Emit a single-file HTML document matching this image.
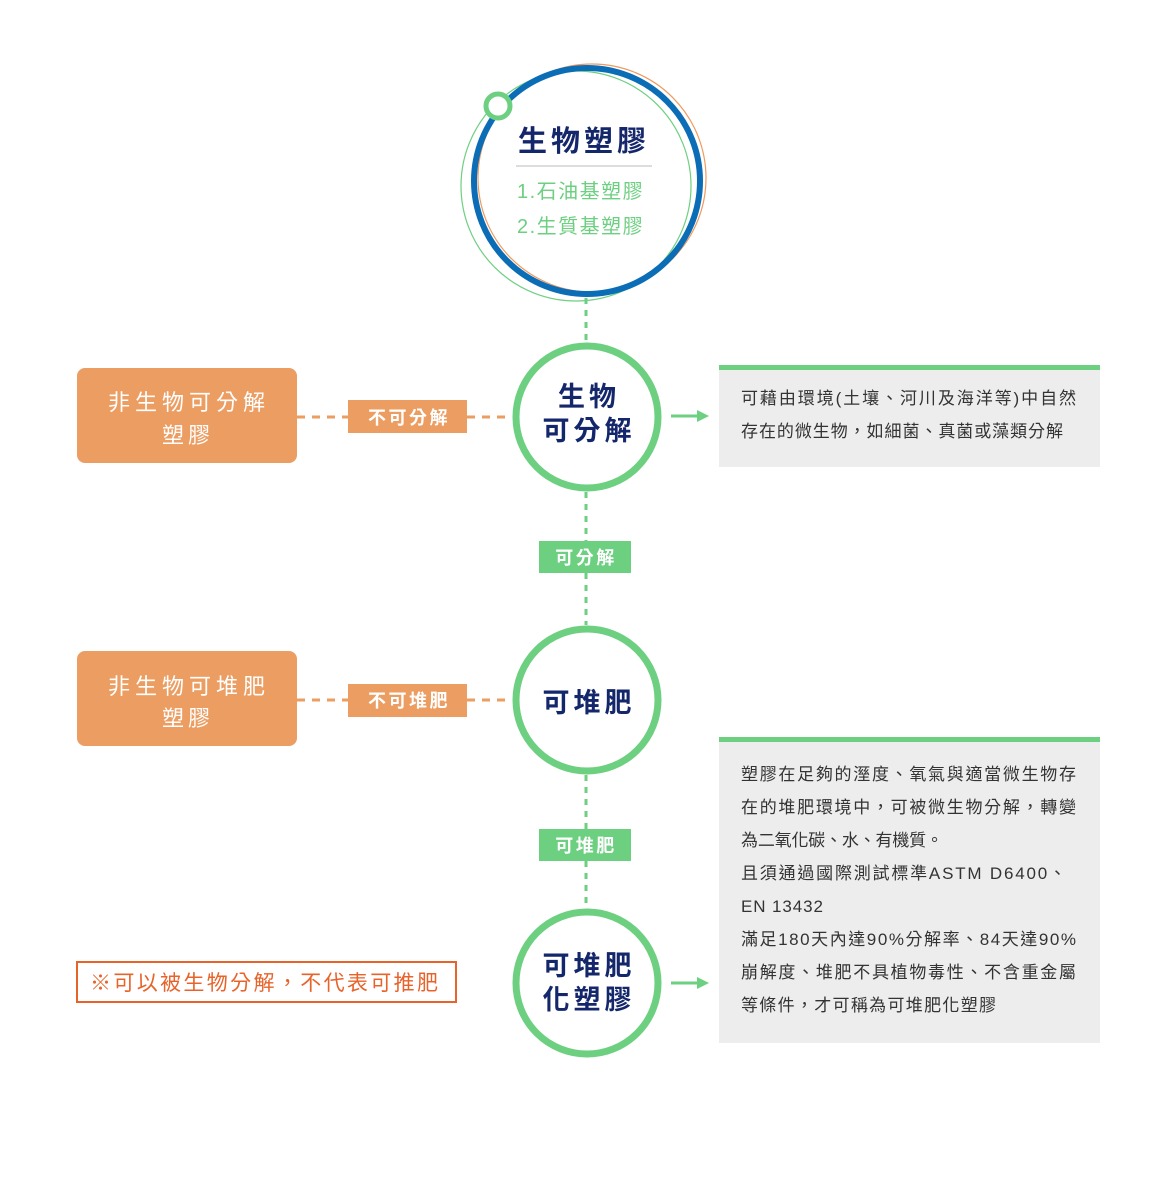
<!DOCTYPE html>
<html><head><meta charset="utf-8"><style>
html,body{margin:0;padding:0;background:#fff;}
svg{display:block;}
text{font-family:"Liberation Sans","Noto Sans CJK TC",sans-serif;}
</style></head><body>
<svg width="1170" height="1200" viewBox="0 0 1170 1200" xmlns="http://www.w3.org/2000/svg">
<circle cx="576" cy="186" r="115" fill="none" stroke="#6dcf80" stroke-width="1.2"/>
<circle cx="592" cy="178" r="114" fill="none" stroke="#ee9a5f" stroke-width="1.2"/>
<circle cx="587" cy="181" r="113" fill="none" stroke="#0a6db5" stroke-width="6"/>
<circle cx="498" cy="106" r="12" fill="#fff" stroke="#6dcf80" stroke-width="5"/>
<text x="584" y="151" text-anchor="middle" font-size="29" font-weight="bold" fill="#15276b" letter-spacing="4">生物塑膠</text>
<line x1="516" y1="166" x2="652" y2="166" stroke="#bbb" stroke-width="1"/>
<text x="517" y="198" font-size="20" fill="#6dcf80" letter-spacing="1.5">1.石油基塑膠</text>
<text x="517" y="233" font-size="20" fill="#6dcf80" letter-spacing="1.5">2.生質基塑膠</text>

<g stroke="#6dcf80" stroke-width="3" stroke-dasharray="6,6">
<line x1="586" y1="298" x2="586" y2="342"/>
<line x1="586" y1="492" x2="586" y2="541"/>
<line x1="586" y1="573" x2="586" y2="625"/>
<line x1="586" y1="775" x2="586" y2="829"/>
<line x1="586" y1="861" x2="586" y2="908"/>
</g>

<g stroke="#eb9d62" stroke-width="3" stroke-dasharray="8,7">
<line x1="297" y1="417" x2="348" y2="417"/>
<line x1="467" y1="417" x2="512" y2="417"/>
<line x1="297" y1="700" x2="348" y2="700"/>
<line x1="467" y1="700" x2="512" y2="700"/>
</g>

<rect x="77" y="368" width="220" height="95" rx="8" fill="#eb9d62"/>
<text x="108" y="410" font-size="22" fill="#fff" letter-spacing="5">非生物可分解</text>
<text x="188" y="443" text-anchor="middle" font-size="22" fill="#fff" letter-spacing="4">塑膠</text>
<rect x="77" y="651" width="220" height="95" rx="8" fill="#eb9d62"/>
<text x="108" y="694" font-size="22" fill="#fff" letter-spacing="5">非生物可堆肥</text>
<text x="188" y="726" text-anchor="middle" font-size="22" fill="#fff" letter-spacing="4">塑膠</text>

<rect x="348" y="400" width="119" height="33" fill="#eb9d62"/>
<text x="409" y="424" text-anchor="middle" font-size="18" font-weight="bold" fill="#fff" letter-spacing="2.5">不可分解</text>
<rect x="348" y="684" width="119" height="33" fill="#eb9d62"/>
<text x="409" y="707" text-anchor="middle" font-size="18" font-weight="bold" fill="#fff" letter-spacing="2.5">不可堆肥</text>

<rect x="539" y="541" width="92" height="32" fill="#6dcf80"/>
<text x="586" y="564" text-anchor="middle" font-size="18" font-weight="bold" fill="#fff" letter-spacing="2.5">可分解</text>
<rect x="539" y="829" width="92" height="32" fill="#6dcf80"/>
<text x="586" y="852" text-anchor="middle" font-size="18" font-weight="bold" fill="#fff" letter-spacing="2.5">可堆肥</text>

<circle cx="587" cy="417" r="71" fill="#fff" stroke="#6dcf80" stroke-width="7"/>
<text x="589" y="406" text-anchor="middle" font-size="27" font-weight="bold" fill="#15276b" letter-spacing="4">生物</text>
<text x="589" y="440" text-anchor="middle" font-size="27" font-weight="bold" fill="#15276b" letter-spacing="4">可分解</text>
<circle cx="587" cy="700" r="71" fill="#fff" stroke="#6dcf80" stroke-width="7"/>
<text x="589" y="712" text-anchor="middle" font-size="27" font-weight="bold" fill="#15276b" letter-spacing="4">可堆肥</text>
<circle cx="587" cy="983" r="71" fill="#fff" stroke="#6dcf80" stroke-width="7"/>
<text x="589" y="975" text-anchor="middle" font-size="27" font-weight="bold" fill="#15276b" letter-spacing="4">可堆肥</text>
<text x="589" y="1009" text-anchor="middle" font-size="27" font-weight="bold" fill="#15276b" letter-spacing="4">化塑膠</text>

<line x1="671" y1="416" x2="700" y2="416" stroke="#6dcf80" stroke-width="3"/>
<polygon points="697,410 709,416 697,422" fill="#6dcf80"/>
<line x1="671" y1="983" x2="700" y2="983" stroke="#6dcf80" stroke-width="3"/>
<polygon points="697,977 709,983 697,989" fill="#6dcf80"/>

<rect x="719" y="365" width="381" height="102" fill="#ededed"/>
<rect x="719" y="365" width="381" height="5" fill="#6dcf80"/>
<g font-size="17" fill="#333">
<text x="741" y="404" textLength="335" lengthAdjust="spacing">可藉由環境(土壤、河川及海洋等)中自然</text>
<text x="741" y="437" textLength="322" lengthAdjust="spacing">存在的微生物，如細菌、真菌或藻類分解</text>
</g>
<rect x="719" y="737" width="381" height="306" fill="#ededed"/>
<rect x="719" y="737" width="381" height="5" fill="#6dcf80"/>
<g font-size="17" fill="#333">
<text x="741" y="780" textLength="335" lengthAdjust="spacing">塑膠在足夠的溼度、氧氣與適當微生物存</text>
<text x="741" y="813" textLength="335" lengthAdjust="spacing">在的堆肥環境中，可被微生物分解，轉變</text>
<text x="741" y="846" textLength="202" lengthAdjust="spacing">為二氧化碳、水、有機質。</text>
<text x="741" y="879" textLength="325" lengthAdjust="spacing">且須通過國際測試標準ASTM D6400、</text>
<text x="741" y="912" textLength="82" lengthAdjust="spacing">EN 13432</text>
<text x="741" y="945" textLength="335" lengthAdjust="spacing">滿足180天內達90%分解率、84天達90%</text>
<text x="741" y="978" textLength="335" lengthAdjust="spacing">崩解度、堆肥不具植物毒性、不含重金屬</text>
<text x="741" y="1011" textLength="255" lengthAdjust="spacing">等條件，才可稱為可堆肥化塑膠</text>
</g>

<rect x="77" y="962" width="379" height="40" fill="#fff" stroke="#e8632a" stroke-width="2"/>
<text x="90" y="990" font-size="21" fill="#e8632a" textLength="348" lengthAdjust="spacing">※可以被生物分解，不代表可推肥</text>
</svg>
</body></html>
